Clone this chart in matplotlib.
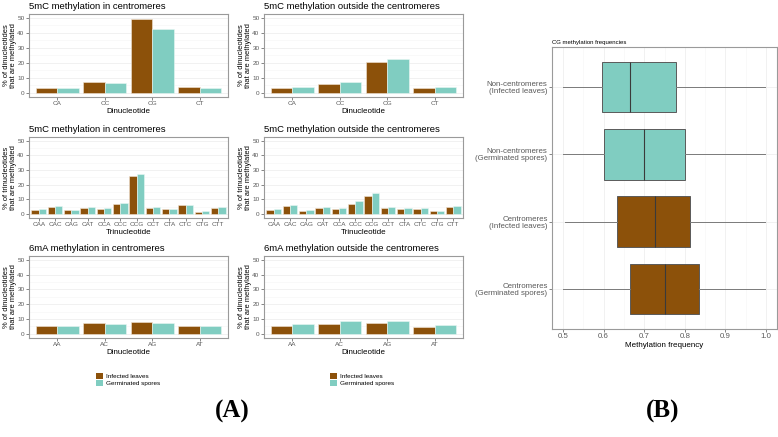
import numpy as np
import matplotlib
matplotlib.use("Agg")
import matplotlib.pyplot as plt
from matplotlib.patches import Patch

plt.rcParams['font.family'] = ['Liberation Sans', 'DejaVu Sans']

W, H = 778, 437
BROWN = '#8C510A'
TEAL = '#80CDC1'
GREY_TXT = '#5A5A5A'

# --- data ---
di_5mc = ['CA', 'CC', 'CG', 'CT']
in_cen_di_leaves = [3.3, 7.1, 49.3, 3.8]
in_cen_di_spores = [3.1, 6.7, 42.4, 3.4]
out_cen_di_leaves = [3.1, 5.6, 20.8, 3.1]
out_cen_di_spores = [3.8, 6.9, 22.5, 3.8]

tri_5mc = ['CAA', 'CAC', 'CAG', 'CAT', 'CCA', 'CCC', 'CCG', 'CCT', 'CTA', 'CTC', 'CTG', 'CTT']
in_cen_tri_leaves = [3.0, 5.0, 2.5, 4.3, 3.4, 6.5, 26.0, 4.3, 3.3, 5.8, 1.6, 4.0]
in_cen_tri_spores = [3.5, 5.5, 2.8, 4.8, 4.0, 7.8, 27.5, 4.8, 3.6, 6.3, 1.8, 4.8]
out_cen_tri_leaves = [2.9, 5.1, 2.2, 3.8, 3.3, 6.9, 12.4, 3.8, 3.1, 3.3, 1.8, 4.4]
out_cen_tri_spores = [3.6, 5.8, 2.7, 4.4, 4.0, 8.9, 14.2, 4.4, 3.8, 3.8, 2.2, 5.3]

di_6ma = ['AA', 'AC', 'AG', 'AT']
in_cen_6ma_leaves = [5.1, 7.3, 7.7, 5.3]
in_cen_6ma_spores = [5.0, 6.9, 7.3, 5.0]
out_cen_6ma_leaves = [5.3, 6.6, 7.1, 4.9]
out_cen_6ma_spores = [6.9, 8.4, 8.9, 5.8]

# panel B boxplot stats (bottom to top)
box_labels = ['Centromeres\n(Germinated spores)', 'Centromeres\n(Infected leaves)',
              'Non-centromeres\n(Germinated spores)', 'Non-centromeres\n(Infected leaves)']
box_whislo = [0.50, 0.505, 0.50, 0.50]
box_q1 = [0.666, 0.634, 0.600, 0.597]
box_med = [0.750, 0.727, 0.699, 0.666]
box_q3 = [0.834, 0.812, 0.800, 0.778]
box_whishi = [0.998, 0.998, 0.998, 0.998]
box_colors = [BROWN, BROWN, TEAL, TEAL]


def ax_px(fig, l, t, r, b):
    return fig.add_axes([l / W, 1 - b / H, (r - l) / W, (b - t) / H])


def style_panel(ax):
    for s in ax.spines.values():
        s.set_color('#9A9A9A')
        s.set_linewidth(0.8)
    ax.tick_params(axis='both', colors='#555555', labelcolor=GREY_TXT,
                   labelsize=4.6, length=2, width=0.5, pad=1.2)


def bar_panel(ax, cats, leaves, spores, title, xlabel, ylabel):
    x = np.arange(len(cats))
    w = 0.45
    ax.bar(x - w / 2, leaves, w, color=BROWN, edgecolor='#F2E6D8', linewidth=0.4, zorder=3)
    ax.bar(x + w / 2, spores, w, color=TEAL, edgecolor='#EAF7F4', linewidth=0.4, zorder=3)
    ax.set_xlim(-0.6, len(cats) - 0.4)
    ax.set_ylim(-2.8, 52.6)
    ax.set_yticks([0, 10, 20, 30, 40, 50])
    ax.set_yticks([5, 15, 25, 35, 45], minor=True)
    ax.tick_params(axis='y', which='minor', length=0)
    ax.set_xticks(x)
    ax.set_xticklabels(cats)
    ax.grid(axis='y', which='major', color='#EBEBEB', linewidth=0.5, zorder=0)
    ax.grid(axis='y', which='minor', color='#F5F5F5', linewidth=0.4, zorder=0)
    style_panel(ax)
    ax.set_title(title, loc='left', fontsize=6.8, pad=3.5)
    ax.set_xlabel(xlabel, fontsize=5.8, labelpad=1)
    ax.set_ylabel(ylabel, fontsize=5.4, labelpad=0.5, linespacing=1.0)


fig = plt.figure(figsize=(W / 100, H / 100), dpi=100)

cols = [(29, 228), (264, 463)]
rows = [(14, 97), (137, 218), (256, 338)]

panels = [
    (di_5mc, in_cen_di_leaves, in_cen_di_spores, '5mC methylation in centromeres',
     'Dinucleotide', '% of dinucleotides\nthat are methylated'),
    (di_5mc, out_cen_di_leaves, out_cen_di_spores, '5mC methylation outside the centromeres',
     'Dinucleotide', '% of dinucleotides\nthat are methylated'),
    (tri_5mc, in_cen_tri_leaves, in_cen_tri_spores, '5mC methylation in centromeres',
     'Trinucleotide', '% of trinucleotides\nthat are methylated'),
    (tri_5mc, out_cen_tri_leaves, out_cen_tri_spores, '5mC methylation outside the centromeres',
     'Trinucleotide', '% of trinucleotides\nthat are methylated'),
    (di_6ma, in_cen_6ma_leaves, in_cen_6ma_spores, '6mA methylation in centromeres',
     'Dinucleotide', '% of dinucleotides\nthat are methylated'),
    (di_6ma, out_cen_6ma_leaves, out_cen_6ma_spores, '6mA methylation outside the centromeres',
     'Dinucleotide', '% of dinucleotides\nthat are methylated'),
]

for i, p in enumerate(panels):
    t, b = rows[i // 2]
    l, r = cols[i % 2]
    ax = ax_px(fig, l, t, r, b)
    bar_panel(ax, *p)

# legends under each column
handles = [Patch(facecolor=BROWN, edgecolor='none', label='Infected leaves'),
           Patch(facecolor=TEAL, edgecolor='none', label='Germinated spores')]
for lx in (96, 330):
    fig.legend(handles=handles, loc='upper left', bbox_to_anchor=(lx / W, 1 - 373 / H),
               frameon=False, fontsize=4.6, handlelength=1.1, handleheight=1.1,
               handletextpad=0.4, labelspacing=0.05, borderpad=0, borderaxespad=0)

# --- panel B ---
axb = ax_px(fig, 552, 47, 777, 329)
stats = []
for i in range(len(box_labels)):
    stats.append(dict(whislo=box_whislo[i], q1=box_q1[i], med=box_med[i],
                      q3=box_q3[i], whishi=box_whishi[i], fliers=[]))
pos = np.arange(len(box_labels))
bp = axb.bxp(stats, positions=pos, vert=False, widths=0.75, patch_artist=True,
             showcaps=False, showfliers=False,
             boxprops=dict(edgecolor='#5A5A5A', linewidth=0.7),
             medianprops=dict(color='#3A3A3A', linewidth=0.8),
             whiskerprops=dict(color='#7A7A7A', linewidth=0.7),
             zorder=3)
for patch, c in zip(bp['boxes'], box_colors):
    patch.set_facecolor(c)
axb.set_xlim(0.4729, 1.027)
axb.set_ylim(-0.6, 3.6)
axb.set_xticks([0.5, 0.6, 0.7, 0.8, 0.9, 1.0])
axb.set_xticklabels(['0.5', '0.6', '0.7', '0.8', '0.9', '1.0'])
axb.set_xticks([0.55, 0.65, 0.75, 0.85, 0.95], minor=True)
axb.tick_params(axis='x', which='minor', length=0)
axb.set_yticks(pos)
axb.set_yticklabels(box_labels, linespacing=1.0)
axb.grid(axis='x', which='major', color='#EBEBEB', linewidth=0.5, zorder=0)
axb.grid(axis='x', which='minor', color='#F5F5F5', linewidth=0.4, zorder=0)
axb.grid(axis='y', which='major', color='#EBEBEB', linewidth=0.5, zorder=0)
style_panel(axb)
axb.tick_params(axis='both', labelsize=5.7)
axb.set_xlabel('Methylation frequency', fontsize=5.8, labelpad=1)
axb.set_title('CG methylation frequencies', loc='left', fontsize=4.3, pad=2.5)

# panel letters
fig.text(232 / W, 1 - 411 / H, '(A)', ha='center', va='center', fontsize=18,
         fontweight='bold', family=['Liberation Serif', 'DejaVu Serif'])
fig.text(663 / W, 1 - 411 / H, '(B)', ha='center', va='center', fontsize=18,
         fontweight='bold', family=['Liberation Serif', 'DejaVu Serif'])

fig.savefig('out.png', dpi=100)
